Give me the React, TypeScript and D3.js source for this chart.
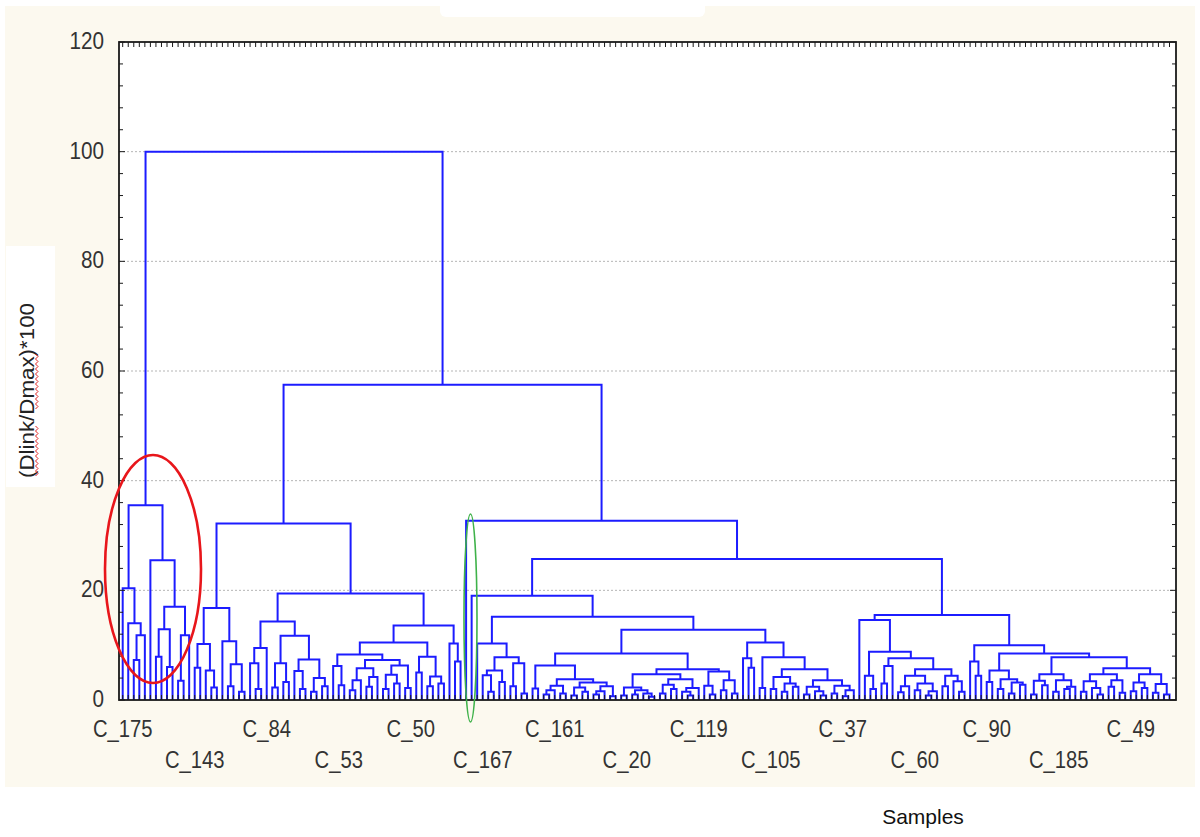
import React, { useMemo } from "react";
import * as d3 from "d3";

// ---------- DATA ----------
// Leaf labels shown on the x axis (every 13th leaf, alternating rows)
const xTickLabels = ["C_175", "C_143", "C_84", "C_53", "C_50", "C_167", "C_161", "C_20", "C_119", "C_105", "C_37", "C_60", "C_90", "C_185", "C_49"];
const labelEvery = 13;
const yTicks = [0, 20, 40, 60, 80, 100, 120];
const yGrid = [20, 40, 60, 80, 100];

// Sub-clusters in compact notation: o = leaf, (a,b)h = merge of a and b at linkage height h
const A1 = "(o,(o,((o,o)7.3,o)11.8)14)20.4";
const A2 = "(o,(((o,o)7.9,(o,o)6)12.9,((o,o)3.5,o)11.8)17)25.5";
const N218 = "(((o,o)5.9,(o,(o,o)2.3)5.4)10.2,(o,((o,o)2.5,(o,o)1.5)6.5)10.7)16.8";
const N282 = "(((o,(o,o)2)6.7,o)9.5,(((o,o)2.3,(o,o)3.3)6.7,((o,(o,o)2)5.3,((o,o)1.5,(o,o)2.5)4)7.4)11.7)14.3";
const K1a = "(o,(o,o)2.7)6.2";
const K1b = "((((o,o)1.8,o)3.6,((o,o)2.4,o)4.2)5.8,(((o,o)2,(o,o)3)4.6,(o,o)2.2)6.3)7.3";
const K2 = "((o,o)5,((o,o)2.5,(o,o)3)4.3)7.9";
const J = "(o,(o,o)7)10.3";
const Y = "(((o,(o,o)1.5)4.5,(o,o)3.3)5.4,((o,o)2.5,(o,o)1.2)6.7)7.8";
const N560 = "((o,o)2.1,((((o,o)1,o)1.8,(o,o)1.2)2.6,(((o,o)0.8,(o,o)1.5)2.3,(((o,o)1,o)1.6,(o,o)0.7)2.5)3.2)3.8)6.3";
const P = "(((o,o)0.8,((o,o)1,(o,(o,o)0.6)1.2)1.8)2.3,(((o,o)1.2,(o,o)2)2.8,((o,(o,o)0.8)1.5,o)2.2)3.8)4.7";
const Q = "((o,(o,o)1)2.6,((o,o)1.8,(o,o)1.2)3.6)5.2";
const L = "(o,(o,o)5.9)7.6";
const R = "((o,o)2.2,(((o,o)2,((o,o)1.5,(o,o)2.4)3)4.2,(((o,o)1,(o,(o,o)0.8)1.6)2.4,((o,o)1.2,((o,o)0.7,o)1.8)2.6)3.6)5.6)7.8";
const T = "((o,(o,o)2)4.4,(((o,o)3,o)6.2,((((o,o)1.4,o)2.5,((o,o)1.8,((o,o)0.8,o)1.6)3)4.4,((o,o)2.5,(o,(o,o)1.5)3.4)4.4)5.6)7.6)8.8";
const W = "(o,(o,o)4.4)7";
const U = "((o,o)3.3,((o,o)2,((o,o)1.2,(o,o)2.8)3.2)3.8)5.4";
const V = "((((o,o)1,(o,o)2.7)3.5,((o,o)1.5,((o,o)2,o)2.4)3.6)4.7,((((o,o)1.5,(o,(o,o)1)2.2)3.4,((o,o)2.4,(o,o)1.3)3.6)4.7,(((o,o)1.6,(o,o)2.2)3.2,((o,o)1.3,(o,o)1)2.9)4.7)5.8)7.8";

// Upper merges: [new node, left, right, height]
const joins: [string, string, string, number][] = [
  ["A", "A1", "A2", 35.5],
  ["K1", "K1a", "K1b", 8.3],
  ["K", "K1", "K2", 10.5],
  ["N427", "K", "J", 13.6],
  ["N354", "N282", "N427", 19.4],
  ["BL", "N218", "N354", 32.2],
  ["N494", "o", "Y", 10.3],
  ["N696", "P", "Q", 5.6],
  ["N628", "N560", "N696", 8.5],
  ["N766", "L", "R", 10.5],
  ["N697", "N628", "N766", 12.8],
  ["N597", "N494", "N697", 15.2],
  ["N536", "o", "N597", 19],
  ["N875", "o", "T", 14.6],
  ["N1047", "U", "V", 8.5],
  ["N1013", "W", "N1047", 10],
  ["N945", "N875", "N1013", 15.5],
  ["N740", "N536", "N945", 25.7],
  ["N604", "o", "N740", 32.7],
  ["N444", "BL", "N604", 57.5],
  ["root", "A", "N444", 100],
];

const subtrees: Record<string, string> = { A1, A2, N218, N282, K1a, K1b, K2, J, Y, N560, P, Q, L, R, T, W, U, V };

// ---------- TREE ----------
type TNode = { h: number; children?: [TNode, TNode]; idx?: number; pos?: number };

function parse(s: string): TNode {
  let i = 0;
  const node = (): TNode => {
    if (s[i] === "o") { i++; return { h: 0 }; }
    i++; // (
    const a = node();
    i++; // ,
    const b = node();
    i++; // )
    let num = "";
    while (i < s.length && /[0-9.]/.test(s[i])) num += s[i++];
    return { h: +num, children: [a, b] };
  };
  return node();
}

function build(): TNode {
  const jmap = new Map(joins.map((j) => [j[0], j]));
  const resolve = (name: string): TNode => {
    if (name === "o") return { h: 0 };
    if (subtrees[name]) return parse(subtrees[name]);
    const j = jmap.get(name)!;
    return { h: j[3], children: [resolve(j[1]), resolve(j[2])] };
  };
  return resolve("root");
}

// ---------- LAYOUT ----------
const W_ = 1200, H_ = 837;
const plot = { left: 119, right: 1176, top: 42, bottom: 700 };
const font = "'Liberation Sans', Arial, sans-serif";

export default function App() {
  const { paths, nLeaves, x, y } = useMemo(() => {
    const root = build();
    let k = 0;
    const assign = (n: TNode) => {
      if (!n.children) { n.idx = k++; return; }
      assign(n.children[0]);
      assign(n.children[1]);
    };
    assign(root);
    const nLeaves = k;
    const x = d3.scaleLinear().domain([0, nLeaves - 1]).range([122.7, 1169.5]);
    const y = d3.scaleLinear().domain([0, 120]).range([plot.bottom, plot.top]);
    const paths: string[] = [];
    const place = (n: TNode): number => {
      if (!n.children) { n.pos = x(n.idx!); return n.pos; }
      const a = place(n.children[0]);
      const b = place(n.children[1]);
      n.pos = (a + b) / 2;
      const [l, r] = n.children;
      const p = d3.path();
      p.moveTo(l.pos!, y(l.h));
      p.lineTo(l.pos!, y(n.h));
      p.lineTo(r.pos!, y(n.h));
      p.lineTo(r.pos!, y(r.h));
      paths.push(p.toString());
      return n.pos;
    };
    place(root);
    return { paths, nLeaves, x, y };
  }, []);

  const leafIdx = d3.range(nLeaves);
  const minor = d3.range(0, 121, 4);

  // squiggle helper (spell-check underline on axis title)
  const squiggle = (x0: number, y0: number, y1: number) => {
    const p = d3.path();
    p.moveTo(x0, y0);
    let t = 0;
    for (let yy = y0; yy >= y1; yy -= 2.5) {
      p.lineTo(x0 + (t % 2 === 0 ? 0 : 2.5), yy);
      t++;
    }
    return p.toString();
  };

  return (
    <svg width={W_} height={H_} style={{ position: "absolute", left: 0, top: 0, background: "#fff" }} fontFamily={font}>
      <rect x={0} y={0} width={W_} height={H_} fill="#ffffff" />
      <rect x={5} y={6} width={1190} height={781} fill="#fcf9ef" />
      <rect x={440} y={0} width={265} height={17} rx={6} fill="#ffffff" />
      <rect x={6} y={246} width={49} height={241} fill="#ffffff" />

      {/* plot area */}
      <rect x={plot.left} y={plot.top} width={plot.right - plot.left} height={plot.bottom - plot.top} fill="#ffffff" />
      {yGrid.map((v) => (
        <line key={v} x1={plot.left} x2={plot.right} y1={y(v)} y2={y(v)} stroke="#b5b5b5" strokeWidth={1} strokeDasharray="2,2" />
      ))}

      {/* dendrogram */}
      <g fill="none" stroke="#1c1cff" strokeWidth={2} strokeLinejoin="miter">
        {paths.map((d, i) => <path key={i} d={d} />)}
      </g>

      {/* frame */}
      <rect x={plot.left} y={plot.top} width={plot.right - plot.left} height={plot.bottom - plot.top} fill="none" stroke="#1a1a1a" strokeWidth={1.8} />
      {/* leaf ticks top & bottom */}
      <g stroke="#1a1a1a" strokeWidth={1}>
        {leafIdx.map((i) => (
          <g key={i}>
            <line x1={x(i)} x2={x(i)} y1={plot.top} y2={plot.top + 5} />
            <line x1={x(i)} x2={x(i)} y1={plot.bottom} y2={plot.bottom - 5} />
          </g>
        ))}
        {minor.map((v) => {
          const len = v % 20 === 0 ? 6 : 4;
          return (
            <g key={v}>
              <line x1={plot.left} x2={plot.left + len} y1={y(v)} y2={y(v)} />
              <line x1={plot.right} x2={plot.right - len} y1={y(v)} y2={y(v)} />
            </g>
          );
        })}
      </g>

      {/* y tick labels */}
      {yTicks.map((v) => (
        <text key={v} transform={`translate(104,${y(v) + 7}) scale(0.9,1)`} textAnchor="end" fontSize={23} fill="#333">
          {v}
        </text>
      ))}

      {/* x labels */}
      {xTickLabels.map((lab, k) => (
        <text
          key={lab}
          transform={`translate(${x(k * labelEvery)},${k % 2 === 0 ? 737 : 768}) scale(0.88,1)`}
          textAnchor="middle"
          fontSize={23}
          fill="#333"
        >
          {lab}
        </text>
      ))}

      {/* axis titles */}
      <text transform="translate(34,390.5) rotate(-90)" textAnchor="middle" fontSize={21} fill="#222" textLength={175} lengthAdjust="spacingAndGlyphs">
        (Dlink/Dmax)*100
      </text>
      <path d={squiggle(35.5, 476, 424)} fill="none" stroke="#e02020" strokeWidth={1} />
      <path d={squiggle(35.5, 409, 352)} fill="none" stroke="#e02020" strokeWidth={1} />
      <text x={923} y={824} textAnchor="middle" fontSize={21} fill="#111">Samples</text>

      {/* annotations */}
      <ellipse cx={153} cy={569} rx={48} ry={114} fill="none" stroke="#e8161b" strokeWidth={2.6} />
      <ellipse cx={470.5} cy={618} rx={6.5} ry={104} fill="none" stroke="#3fb24a" strokeWidth={1.6} />
    </svg>
  );
}
